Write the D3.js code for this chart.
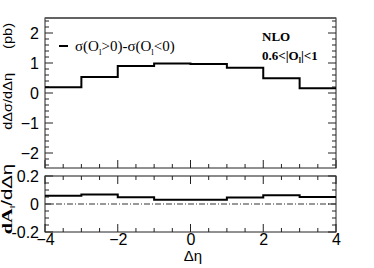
<!DOCTYPE html>
<html>
<head>
<meta charset="utf-8">
<script src="https://d3js.org/d3.v7.min.js"></script>
<style>
body { margin: 0; background: #fff; }
svg { display: block; }
.tick text { font-family: "Liberation Sans", Arial, sans-serif; }
</style>
</head>
<body>
<div id="chart"></div>
<script>
var width = 374, height = 268;

// bin edges in delta eta
var edges = [-4, -3, -2, -1, 0, 1, 2, 3, 4];
// top panel: d(delta sigma)/d(delta eta) in pb
var sigmaDiff = [0.19, 0.53, 0.90, 0.98, 0.97, 0.84, 0.49, 0.16];
// bottom panel: dA_l/d(delta eta)
var asym = [0.059, 0.068, 0.048, 0.031, 0.031, 0.046, 0.062, 0.050];

var xTicks = [-4, -2, 0, 2, 4];
var topTicks = [-2, -1, 0, 1, 2];
var botTicks = [-0.2, 0, 0.2];

var left = 45, right = 336;
var top1 = 18, bot1 = 168;
var top2 = 176, bot2 = 232;

var svg = d3.select("#chart").append("svg")
  .attr("width", width)
  .attr("height", height);

var x = d3.scaleLinear().domain([-4, 4]).range([left, right]);
var yTop = d3.scaleLinear().domain([-2.5, 2.5]).range([bot1, top1]);
var yBot = d3.scaleLinear().domain([-0.2, 0.2]).range([bot2, top2]);

function frame(y0, y1, topColor){
  svg.append("rect")
    .attr("x", left).attr("y", y0)
    .attr("width", right - left).attr("height", y1 - y0)
    .attr("fill", "none")
    .attr("stroke", "#222")
    .attr("stroke-width", 1);
  svg.append("line")
    .attr("x1", left).attr("x2", right)
    .attr("y1", y0).attr("y2", y0)
    .attr("stroke", topColor).attr("stroke-width", 1.5);
}
frame(top1, bot1, "#555");
frame(top2, bot2, "#888");

// tick helper: draws major + minor ticks inward
function xTickMarks(yPos, dir){
  var minor = d3.range(-4, 4.01, 0.5);
  minor.forEach(function(v){
    var major = Math.abs(v % 2) < 1e-6;
    var len = major ? 8 : 4;
    svg.append("line")
      .attr("x1", x(v)).attr("x2", x(v))
      .attr("y1", yPos).attr("y2", yPos + dir * len)
      .attr("stroke", "#222");
  });
}
xTickMarks(bot1, -1);
xTickMarks(top2, 1);
xTickMarks(bot2, -1);

function yTickMarks(scale, lo, hi, step, majorStep){
  var vals = d3.range(lo, hi + step / 2, step);
  vals.forEach(function(v){
    var r = v / majorStep;
    var major = Math.abs(r - Math.round(r)) < 1e-6;
    var len = major ? 8 : 4;
    svg.append("line")
      .attr("x1", left).attr("x2", left + len)
      .attr("y1", scale(v)).attr("y2", scale(v))
      .attr("stroke", "#222");
    svg.append("line")
      .attr("x1", right).attr("x2", right - len)
      .attr("y1", scale(v)).attr("y2", scale(v))
      .attr("stroke", "#222");
  });
}
yTickMarks(yTop, -2.4, 2.4, 0.2, 1);
yTickMarks(yBot, -0.2, 0.2, 0.05, 0.2);

// axes labels via d3 axes (labels only)
var axTop = svg.append("g").attr("transform", "translate(" + (left - 3) + ",0)")
  .call(d3.axisLeft(yTop).tickValues(topTicks).tickSize(0).tickFormat(d3.format("d")));
axTop.select(".domain").remove();
axTop.selectAll("text").attr("font-size", 16).attr("fill", "#000");

var axBot = svg.append("g").attr("transform", "translate(" + (left - 3) + ",0)")
  .call(d3.axisLeft(yBot).tickValues(botTicks).tickSize(0).tickFormat(function(d){ return d === 0 ? "0" : d.toFixed(1); }));
axBot.select(".domain").remove();
axBot.selectAll("text").attr("font-size", 16).attr("fill", "#000");

var axX = svg.append("g").attr("transform", "translate(0," + (bot2 - 1) + ")")
  .call(d3.axisBottom(x).tickValues(xTicks).tickSize(0).tickFormat(d3.format("d")));
axX.select(".domain").remove();
axX.selectAll("text").attr("font-size", 16).attr("fill", "#000");

// zero line, dash-dot
svg.append("line")
  .attr("x1", x(-4)).attr("x2", x(4))
  .attr("y1", yBot(0)).attr("y2", yBot(0))
  .attr("stroke", "#333")
  .attr("stroke-width", 1)
  .attr("stroke-dasharray", "6,2,1,2");

// histograms
function stepData(vals){
  var pts = edges.map(function(e, i){ return [e, vals[Math.min(i, vals.length - 1)]]; });
  return pts;
}
svg.append("path")
  .datum(stepData(sigmaDiff))
  .attr("d", d3.line().x(function(d){ return x(d[0]); }).y(function(d){ return yTop(d[1]); }).curve(d3.curveStepAfter))
  .attr("fill", "none").attr("stroke", "#000").attr("stroke-width", 2);

svg.append("path")
  .datum(stepData(asym))
  .attr("d", d3.line().x(function(d){ return x(d[0]); }).y(function(d){ return yBot(d[1]); }).curve(d3.curveStepAfter))
  .attr("fill", "none").attr("stroke", "#000").attr("stroke-width", 2);

// legend
svg.append("line")
  .attr("x1", 59).attr("x2", 68).attr("y1", 46).attr("y2", 46)
  .attr("stroke", "#000").attr("stroke-width", 2);
var leg = svg.append("text")
  .attr("x", 75).attr("y", 51)
  .attr("font-family", "Liberation Serif, Times New Roman, serif")
  .attr("font-size", 15);
leg.append("tspan").text("\u03c3(O");
leg.append("tspan").attr("font-size", 9).attr("dy", 4).text("l");
leg.append("tspan").attr("dy", -4).text(">0)-\u03c3(O");
leg.append("tspan").attr("font-size", 9).attr("dy", 4).text("l");
leg.append("tspan").attr("dy", -4).text("<0)");

svg.append("text")
  .attr("x", 262).attr("y", 41)
  .attr("font-family", "Liberation Serif, Times New Roman, serif")
  .attr("font-weight", "bold").attr("font-size", 13)
  .text("NLO");
var cut = svg.append("text")
  .attr("x", 262).attr("y", 60)
  .attr("font-family", "Liberation Serif, Times New Roman, serif")
  .attr("font-weight", "bold").attr("font-size", 13);
cut.append("tspan").text("0.6<|O");
cut.append("tspan").attr("font-size", 8).attr("dy", 3).text("l");
cut.append("tspan").attr("dy", -3).text("|<1");

// axis titles (rotated, slightly stretched along their length)
svg.append("text")
  .attr("transform", "translate(12,23) rotate(-90) scale(1.12,1)")
  .attr("text-anchor", "end")
  .attr("font-family", "Liberation Sans, Arial, sans-serif")
  .attr("font-size", 13)
  .text("(pb)");
svg.append("text")
  .attr("transform", "translate(12,73) rotate(-90) scale(1.12,1)")
  .attr("text-anchor", "end")
  .attr("font-family", "Liberation Sans, Arial, sans-serif")
  .attr("font-size", 13)
  .text("d\u0394\u03c3/d\u0394\u03b7");

var yl2 = svg.append("text")
  .attr("transform", "translate(12,164) rotate(-90) scale(1.45,1)")
  .attr("text-anchor", "end")
  .attr("font-family", "Liberation Sans, Arial, sans-serif")
  .attr("font-size", 14);
yl2.append("tspan").attr("font-family", "Liberation Serif, Times New Roman, serif").attr("font-weight", "bold").text("dA");
yl2.append("tspan").attr("font-size", 8).attr("dy", 3).text("l");
yl2.append("tspan").attr("dy", -3).text("/d\u0394\u03b7");

svg.append("text")
  .attr("x", 193).attr("y", 261)
  .attr("text-anchor", "middle")
  .attr("font-family", "Liberation Sans, Arial, sans-serif")
  .attr("font-size", 15)
  .text("\u0394\u03b7");
</script>
</body>
</html>
